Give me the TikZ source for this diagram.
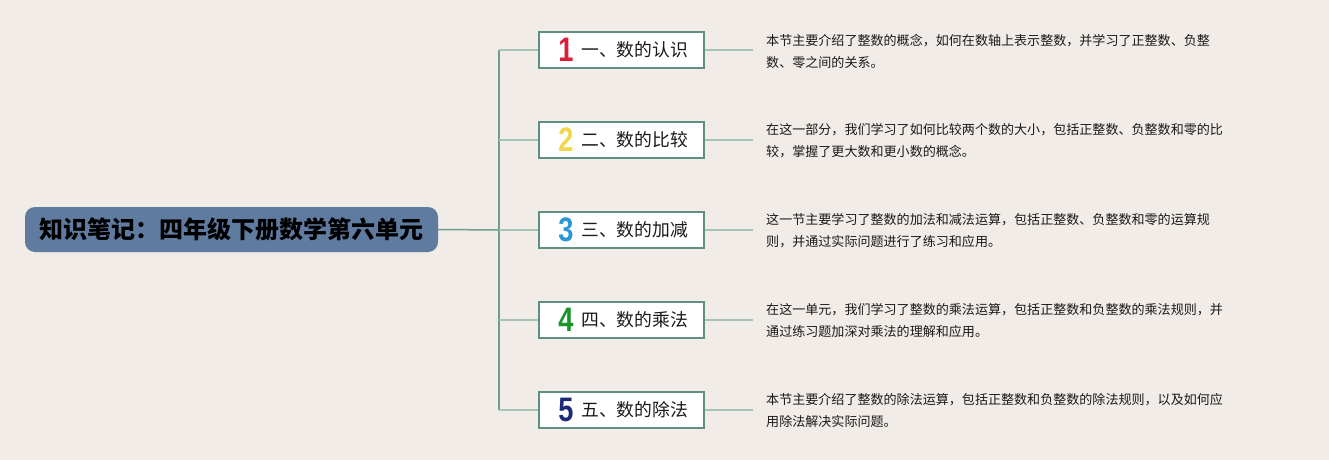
\documentclass[tikz,border=0pt]{standalone}
\usepackage{fontspec}
\newfontfamily\cjk{Noto Sans CJK SC}
\newfontfamily\digitfont{Liberation Sans}
\definecolor{bgc}{HTML}{F1ECE7}
\definecolor{rootc}{HTML}{5F7BA0}
\definecolor{boxc}{HTML}{5E8F80}
\definecolor{trunkc}{HTML}{6E9E8E}
\definecolor{branchc}{HTML}{A5C3B6}
\definecolor{txtc}{HTML}{1A1A1A}
\definecolor{n1}{HTML}{DD1E3A}
\definecolor{n2}{HTML}{F2D74C}
\definecolor{n3}{HTML}{2996D6}
\definecolor{n4}{HTML}{18962A}
\definecolor{n5}{HTML}{1E2A78}
\tikzset{
  rootbox/.style={rectangle, rounded corners=10pt, fill=rootc, minimum width=413pt, minimum height=45pt, inner sep=0pt, font=\cjk\bfseries\fontsize{24}{28}\selectfont, text=black},
  topicbox/.style={rectangle, draw=boxc, line width=1.6pt, fill=white, minimum width=165pt, minimum height=36pt, inner sep=0pt},
  digit/.style={inner sep=0pt, font=\digitfont\bfseries\fontsize{34}{34}\selectfont},
  label/.style={inner sep=0pt, anchor=west, font=\cjk\fontsize{17.8}{20}\selectfont, text=txtc},
  desc/.style={inner sep=0pt, anchor=west, align=left, font=\cjk\fontsize{13.05}{22}\selectfont, text=txtc},
  trunk/.style={draw=trunkc, line width=1.5pt},
  branch/.style={draw=branchc, line width=1.5pt}
}
\begin{document}
\begin{tikzpicture}[x=1pt,y=-1pt]
\fill[bgc] (0,0) rectangle (1329,460);
\useasboundingbox (0,0) rectangle (1329,460);

\node[rootbox] (root) at (231.5,229.5) {知识笔记：四年级下册数学第六单元};

\coordinate (tm) at (499,230);
\coordinate (ttop) at (499,50);
\coordinate (tbot) at (499,410);
\draw[trunk] (root.east) -- (tm);
\draw[trunk] (ttop) -- (tbot);

\foreach \i/\y/\col/\lab in {1/50/n1/一、数的认识, 2/140/n2/二、数的比较, 3/230/n3/三、数的加减, 4/320/n4/四、数的乘法, 5/410/n5/五、数的除法}{
  \coordinate (t\i) at (499,\y);
  \node[topicbox] (c\i) at (621.5,\y) {};
  \node[digit, text=\col] (g\i) at (566,\y) {\scalebox{0.8}[1]{\i}};
  \node[label] (l\i) at (581,\y) {\lab};
  \coordinate (e\i) at (753,\y);
  \draw[branch] (t\i) -- (c\i.west);
  \draw[branch] (c\i.east) -- (e\i);
}

\node[desc] (d1) at (766,51) {本节主要介绍了整数的概念，如何在数轴上表示整数，并学习了正整数、负整\\数、零之间的关系。};
\node[desc] (d2) at (766,141) {在这一部分，我们学习了如何比较两个数的大小，包括正整数、负整数和零的比\\较，掌握了更大数和更小数的概念。};
\node[desc] (d3) at (766,231) {这一节主要学习了整数的加法和减法运算，包括正整数、负整数和零的运算规\\则，并通过实际问题进行了练习和应用。};
\node[desc] (d4) at (766,321) {在这一单元，我们学习了整数的乘法运算，包括正整数和负整数的乘法规则，并\\通过练习题加深对乘法的理解和应用。};
\node[desc] (d5) at (766,411) {本节主要介绍了整数的除法运算，包括正整数和负整数的除法规则，以及如何应\\用除法解决实际问题。};
\end{tikzpicture}
\end{document}
